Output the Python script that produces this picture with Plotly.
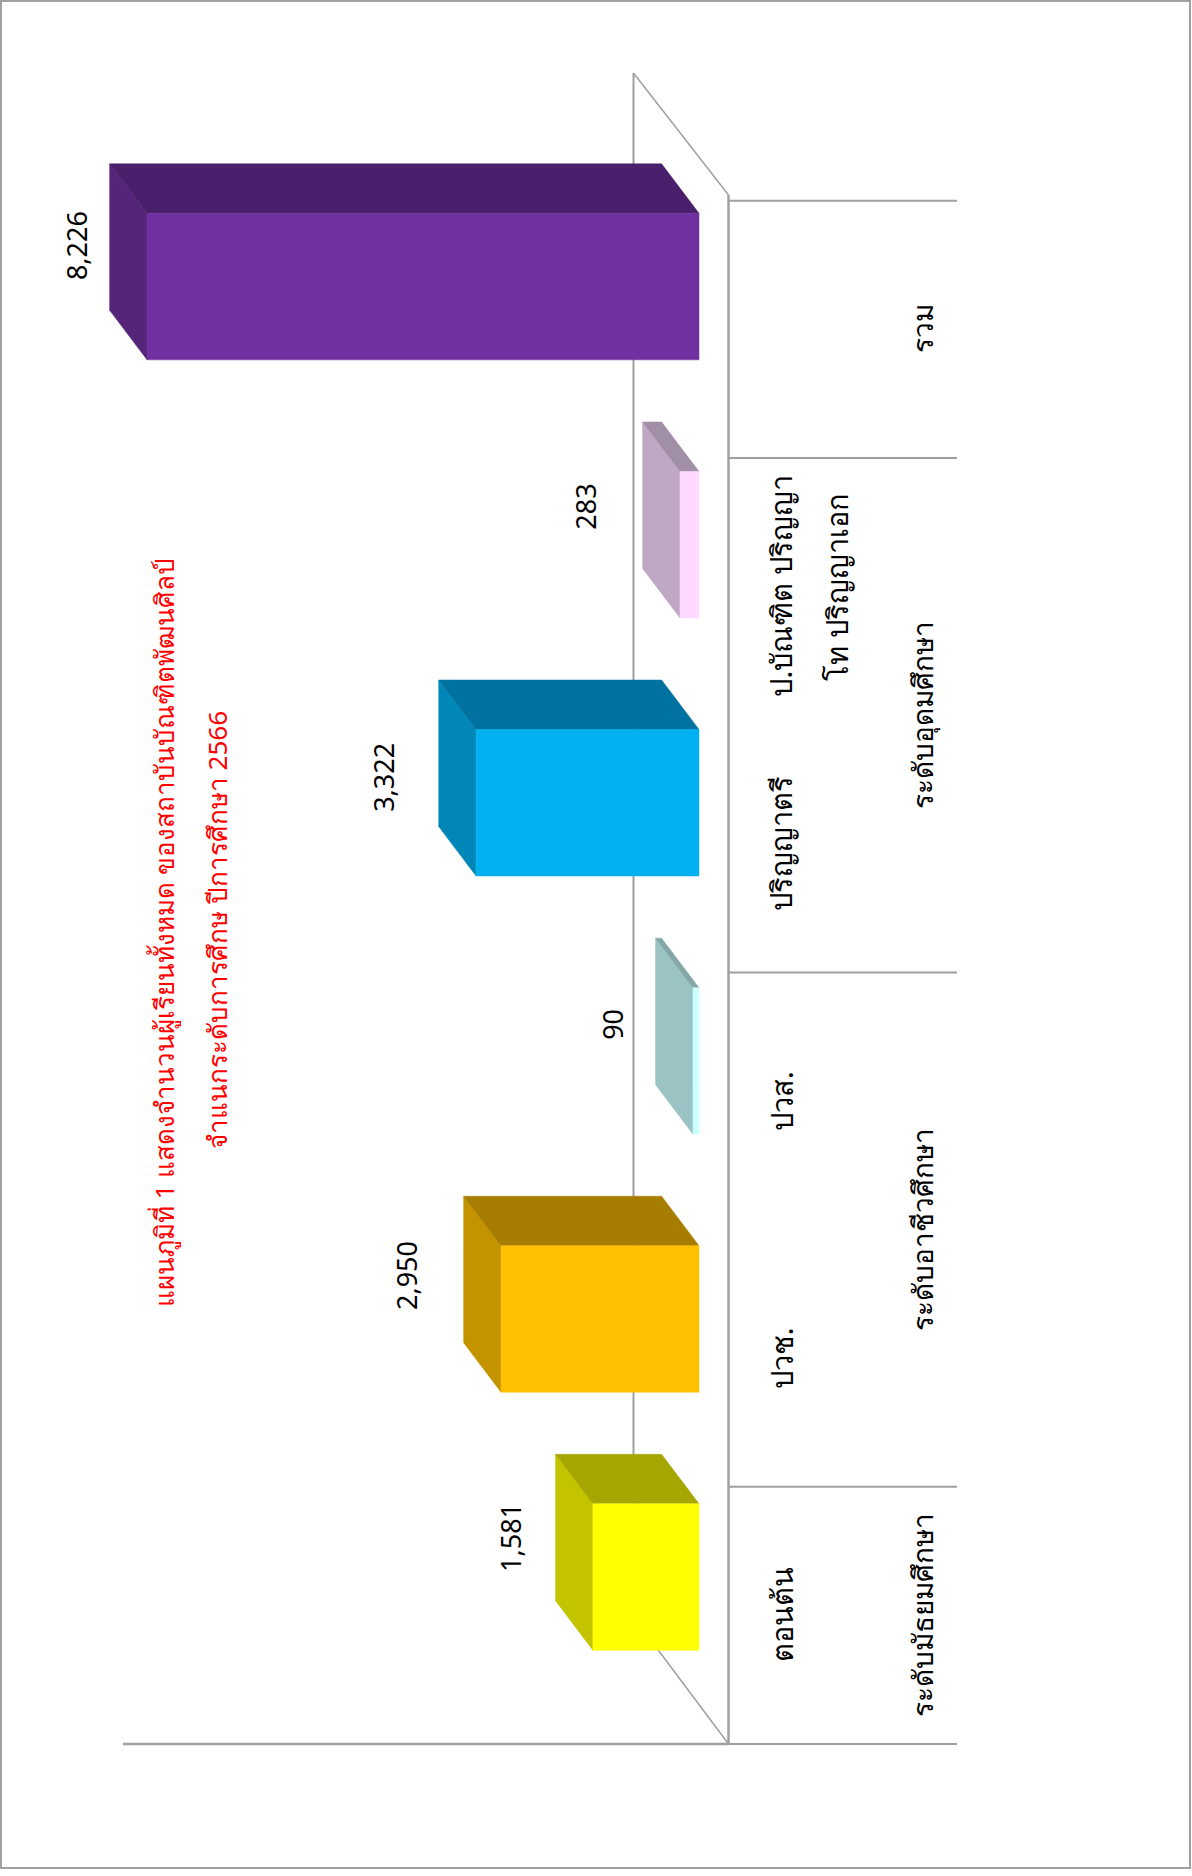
import plotly.graph_objects as go

# ---- data ----
categories = ["ตอนต้น", "ปวช.", "ปวส.", "ปริญญาตรี", "ป.บัณฑิต ปริญญา<br>โท ปริญญาเอก", ""]
values = [1581, 2950, 90, 3322, 283, 8226]
groups = ["ระดับมัธยมศึกษา", "ระดับอาชีวศึกษา", "ระดับอุดมศึกษา", "รวม"]
group_spans = [(0, 1), (1, 3), (3, 5), (5, 6)]
title_lines = ["แผนภูมิที่ 1 แสดงจำนวนผู้เรียนทั้งหมด ของสถาบันบัณฑิตพัฒนศิลป์",
               "จำแนกระดับการศึกษ ปีการศึกษา 2566"]

# ---- style ----
front_colors = ["#FFFF00", "#FFC000", "#CCFFFF", "#00B0F0", "#FFD9FF", "#7030A0"]
side_colors = ["#C3C300", "#C39300", "#9CC3C3", "#0087B8", "#BFA8C3", "#55257A"]
top_colors = ["#A6A600", "#A67D00", "#85A6A6", "#0072A0", "#A08FA5", "#4A1F6B"]
GRAY = "#A0A0A0"
FONT = "Noto Sans, Tahoma, sans-serif"
W, H = 1192, 1876

# page <-> data scales
PX_PER_VALUE = 0.0671
BASE_PX = 699.0
PX_PER_CAT = 257.2
CAT0_PX = 1744.0


def vpx(p):
    return (BASE_PX - p) / PX_PER_VALUE


def cpx(p):
    return (CAT0_PX - p) / PX_PER_CAT


DEPTH_V = 37.4 / PX_PER_VALUE
DEPTH_C = 49.5 / PX_PER_CAT
BAR_H = 146.5 / PX_PER_CAT
BAR_OFFSET = 0.649
BAR_STEP = 1.0035

label_dv = [83, 94, 80, 92, 94, 71]
label_dc = [40, 43, 37, 25, 38, 40.5]

fig = go.Figure()


def line(xs, ys, width=2):
    fig.add_trace(go.Scatter(x=xs, y=ys, mode="lines", line=dict(color=GRAY, width=width),
                             hoverinfo="skip", showlegend=False))


def face(xs, ys, color):
    fig.add_trace(go.Scatter(x=xs + xs[:1], y=ys + ys[:1], mode="lines", fill="toself",
                             fillcolor=color, line=dict(color=color, width=0.5),
                             hoverinfo="skip", showlegend=False))


WALL_V = vpx(633.5)
FLOOR_V = vpx(728.5)
LEFT_V = vpx(123)
RIGHT_V = vpx(957)

# walls and floor
line([WALL_V, WALL_V], [cpx(73), cpx(1617)])
line([WALL_V, FLOOR_V], [cpx(73), cpx(195)], 1.5)
line([WALL_V, FLOOR_V], [cpx(1617), 0], 1.5)
line([FLOOR_V, FLOOR_V], [cpx(195), 0], 2.5)
line([LEFT_V, FLOOR_V], [0, 0], 2.5)

# multi-level axis separators
for edge in sorted({s for span in group_spans for s in span}):
    line([FLOOR_V, RIGHT_V], [edge, edge])

# 3-D bars
for i, v in enumerate(values):
    c0 = BAR_OFFSET - BAR_H / 2 + i * BAR_STEP
    c1 = c0 + BAR_H
    face([v, v + DEPTH_V, v + DEPTH_V, v], [c0, c0 + DEPTH_C, c1 + DEPTH_C, c1], side_colors[i])
    face([0, DEPTH_V, v + DEPTH_V, v], [c1, c1 + DEPTH_C, c1 + DEPTH_C, c1], top_colors[i])
    face([0, v, v, 0], [c0, c0, c1, c1], front_colors[i])


def text(x, y, s, size=27, color="black"):
    fig.add_annotation(x=x, y=y, text=s, textangle=-90, showarrow=False, align="center",
                       xanchor="center", yanchor="middle",
                       font=dict(family=FONT, size=size, color=color))


# value labels
for i, v in enumerate(values):
    center = BAR_OFFSET + i * BAR_STEP
    text(v + label_dv[i] / PX_PER_VALUE, center + label_dc[i] / PX_PER_CAT, f"{v:,}")

# category and group labels (wrapped labels are set line by line)
for i, name in enumerate(categories):
    for k, part in enumerate(name.split("<br>")):
        if part:
            text(vpx(781 + 56 * k), i + 0.5, part, size=29)
for name, (a, b) in zip(groups, group_spans):
    text(vpx(922), (a + b) / 2, name, size=28)

# title
text(vpx(164), cpx(933), title_lines[0], size=26, color="#FF0000")
text(vpx(217), cpx(930), title_lines[1], size=26, color="#FF0000")

fig.update_layout(
    width=W, height=H, margin=dict(l=0, r=0, t=0, b=0),
    paper_bgcolor="white", plot_bgcolor="white", showlegend=False,
    xaxis=dict(range=[vpx(0), vpx(W)], visible=False, fixedrange=True),
    yaxis=dict(range=[cpx(H), cpx(0)], visible=False, fixedrange=True),
    shapes=[dict(type="rect", xref="paper", yref="paper",
                 x0=1 / W, x1=1190 / W, y0=1 - 1868 / H, y1=1 - 1 / H,
                 line=dict(color=GRAY, width=2))],
)
fig.write_html("out.html", post_script="document.body.style.margin='0';",
               config={"displayModeBar": False})
